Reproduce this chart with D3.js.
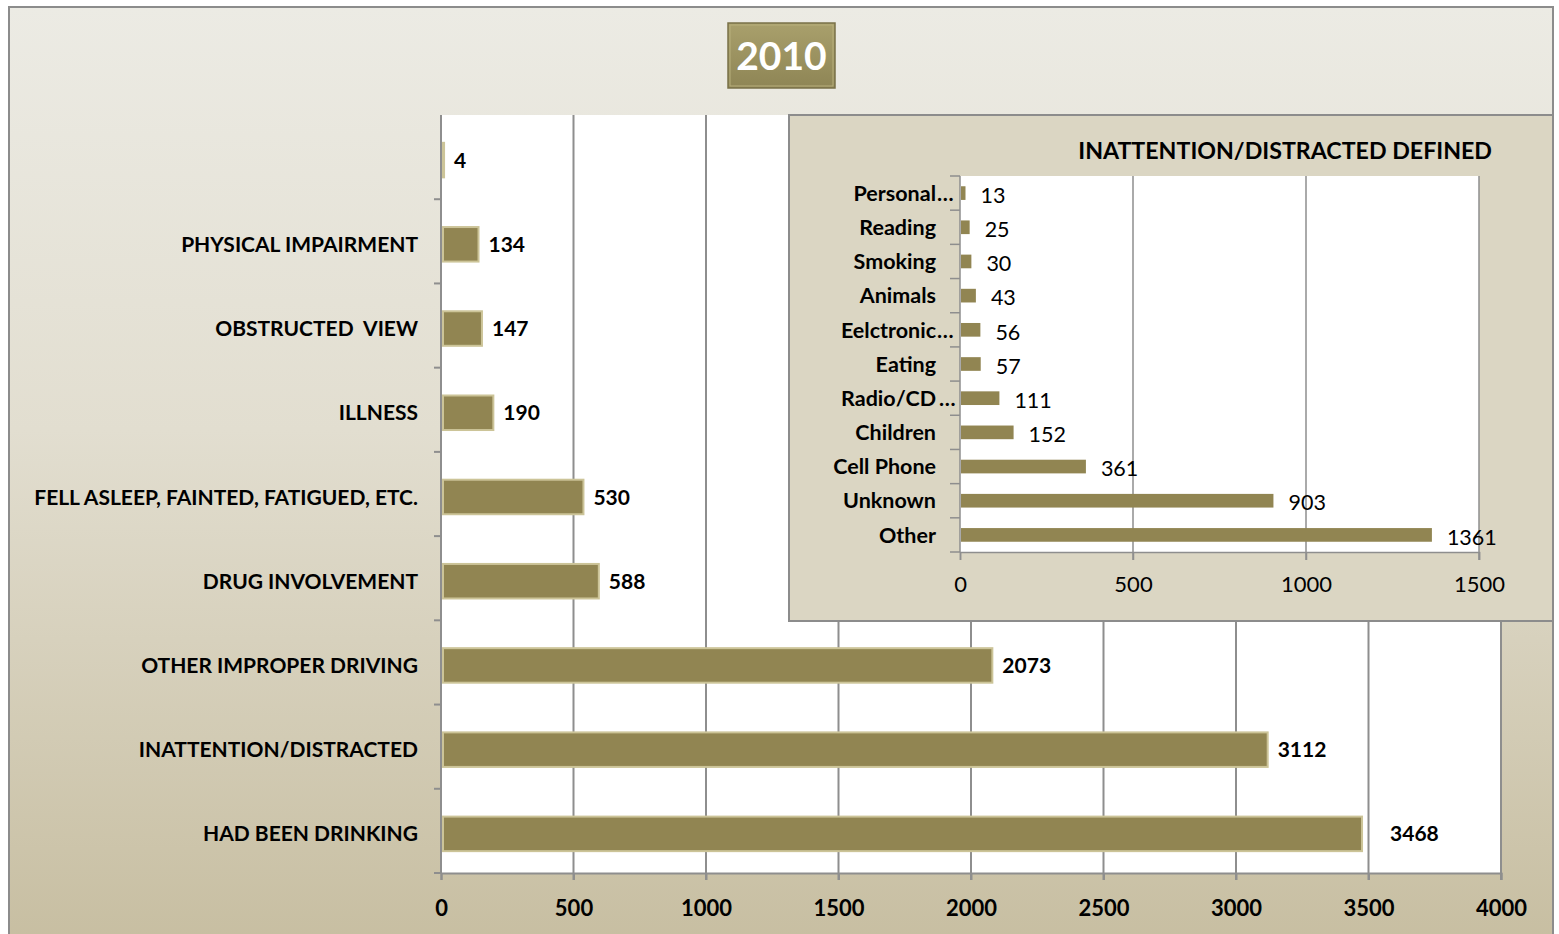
<!DOCTYPE html>
<html><head><meta charset="utf-8">
<script src="https://cdn.jsdelivr.net/npm/d3@7"></script>
<style>html,body{margin:0;padding:0;background:#fff;}svg{display:block;}</style>
</head><body>
<svg id="c" width="1559" height="934"></svg>
<script>
const titleText = "2010";
const mainCategories = ["", "PHYSICAL IMPAIRMENT", "OBSTRUCTED  VIEW", "ILLNESS", "FELL ASLEEP, FAINTED, FATIGUED, ETC.", "DRUG INVOLVEMENT", "OTHER IMPROPER DRIVING", "INATTENTION/DISTRACTED", "HAD BEEN DRINKING"];
const mainValues = [4, 134, 147, 190, 530, 588, 2073, 3112, 3468];
const mainTicks = [0, 500, 1000, 1500, 2000, 2500, 3000, 3500, 4000];

const insetTitle = "INATTENTION/DISTRACTED DEFINED";
const insetCategories = ["Personal…", "Reading", "Smoking", "Animals", "Eelctronic…", "Eating", "Radio/CD …", "Children", "Cell Phone", "Unknown", "Other"];
const insetValues = [13, 25, 30, 43, 56, 57, 111, 152, 361, 903, 1361];
const insetTicks = [0, 500, 1000, 1500];

const FONT = "Lato, 'Open Sans', sans-serif";
const svg = d3.select("#c");
const defs = svg.append("defs");
const bg = defs.append("linearGradient").attr("id","bg").attr("x1",0).attr("y1",0).attr("x2",0).attr("y2",1);
bg.append("stop").attr("offset","0%").attr("stop-color","#ECEBE4");
bg.append("stop").attr("offset","45%").attr("stop-color","#E2DED0");
bg.append("stop").attr("offset","100%").attr("stop-color","#C7BEA1");
const tg = defs.append("linearGradient").attr("id","tg").attr("x1",0).attr("y1",0).attr("x2",0).attr("y2",1);
tg.append("stop").attr("offset","0%").attr("stop-color","#A9A06C");
tg.append("stop").attr("offset","100%").attr("stop-color","#8E8555");

// outer frame
svg.append("rect").attr("x",9).attr("y",7).attr("width",1544).attr("height",940)
  .attr("fill","url(#bg)").attr("stroke","#8C8C8C").attr("stroke-width",2);

// title box
const tb = svg.append("g");
tb.append("rect").attr("x",728).attr("y",23).attr("width",107).attr("height",65)
  .attr("fill","url(#tg)").attr("stroke","#7A7148").attr("stroke-width",1.5);
tb.append("rect").attr("x",730).attr("y",25).attr("width",103).attr("height",61)
  .attr("fill","none").attr("stroke","#B8AF7C").attr("stroke-width",1);
tb.append("text").attr("x",781.5).attr("y",70).attr("text-anchor","middle")
  .attr("font-family",FONT).attr("font-weight","bold").attr("font-size",39).attr("fill","#fff")
  .text(titleText);

// main chart
const m = {l:441, r:1501, t:115, b:873};
const x = d3.scaleLinear().domain([0,4000]).range([m.l, m.r]);
const y = d3.scaleBand().domain(mainCategories.map((d,i)=>i)).range([m.t, m.b]).paddingInner(0.59).paddingOuter(0.295).align(0.56);
const main = svg.append("g");
main.append("rect").attr("x",m.l).attr("y",m.t).attr("width",m.r-m.l).attr("height",m.b-m.t).attr("fill","#fff");
main.selectAll("line.grid").data(mainTicks.slice(1)).join("line")
  .attr("x1",d=>x(d)).attr("x2",d=>x(d)).attr("y1",m.t).attr("y2",m.b+7)
  .attr("stroke","#8E8E8E").attr("stroke-width",2);
// bottom axis
const xa = main.append("g").attr("transform",`translate(0,${m.b})`)
  .call(d3.axisBottom(x).tickValues(mainTicks).tickSize(7).tickFormat(d3.format("d")));
xa.select(".domain").attr("stroke","#8E8E8E").attr("stroke-width",2);
xa.selectAll(".tick line").attr("stroke","#8E8E8E").attr("stroke-width",2);
xa.selectAll(".tick text").attr("font-family",FONT).attr("font-weight","bold").attr("font-size",22).attr("fill","#000").attr("dy","1.5em");
// left axis
const step = y.step();
main.append("line").attr("x1",m.l).attr("x2",m.l).attr("y1",m.t).attr("y2",m.b).attr("stroke","#8E8E8E").attr("stroke-width",2);
main.selectAll("line.yt").data(d3.range(mainCategories.length)).join("line")
  .attr("x1",m.l-7).attr("x2",m.l).attr("y1",(d,i)=>m.t+step*(i+1)).attr("y2",(d,i)=>m.t+step*(i+1))
  .attr("stroke","#8E8E8E").attr("stroke-width",2);
// bars
main.selectAll("rect.bar").data(mainValues).join("rect")
  .attr("x",x(0)+2).attr("y",(d,i)=>y(i)).attr("height",y.bandwidth())
  .attr("width",d=>Math.max(1, x(d)-x(0)))
  .attr("fill","#918552").attr("stroke","#CCC498").attr("stroke-width",2);
// value labels
main.selectAll("text.val").data(mainValues).join("text")
  .attr("x",(d,i)=>x(d)+ (i===mainValues.length-1 ? 30 : 12)).attr("y",(d,i)=>y(i)+y.bandwidth()/2).attr("dy","0.36em")
  .attr("font-family",FONT).attr("font-weight","bold").attr("font-size",21).attr("fill","#000")
  .text(d=>d);
// category labels
main.selectAll("text.cat").data(mainCategories).join("text")
  .attr("x",418).attr("y",(d,i)=>y(i)+y.bandwidth()/2).attr("dy","0.36em").attr("text-anchor","end")
  .attr("font-family",FONT).attr("font-weight","bold").attr("font-size",21).attr("fill","#000")
  .attr("xml:space","preserve").style("white-space","pre")
  .text(d=>d);

// inset
const ins = svg.append("g");
ins.append("rect").attr("x",789).attr("y",115).attr("width",764).attr("height",506)
  .attr("fill","#DBD6C3").attr("stroke","#8C8C8C").attr("stroke-width",2);
ins.append("text").attr("x",1492).attr("y",159).attr("text-anchor","end")
  .attr("font-family",FONT).attr("font-weight","bold").attr("font-size",23.2).attr("fill","#000")
  .text(insetTitle);
const p = {l:960, r:1479, t:176, b:552};
const xi = d3.scaleLinear().domain([0,1500]).range([p.l,p.r]);
const yi = d3.scaleBand().domain(insetCategories.map((d,i)=>i)).range([p.t,p.b]).paddingInner(0.6).paddingOuter(0.3);
ins.append("rect").attr("x",p.l).attr("y",p.t).attr("width",p.r-p.l).attr("height",p.b-p.t).attr("fill","#fff");
ins.selectAll("line.grid").data(insetTicks.slice(1)).join("line")
  .attr("x1",d=>xi(d)).attr("x2",d=>xi(d)).attr("y1",p.t).attr("y2",p.b+8)
  .attr("stroke","#8E8E8E").attr("stroke-width",1.5);
const xia = ins.append("g").attr("transform",`translate(0,${p.b})`)
  .call(d3.axisBottom(xi).tickValues(insetTicks).tickSize(8).tickFormat(d3.format("d")));
xia.select(".domain").attr("stroke","#8E8E8E").attr("stroke-width",1.5);
xia.selectAll(".tick line").attr("stroke","#8E8E8E").attr("stroke-width",1.5);
xia.selectAll(".tick text").attr("font-family",FONT).attr("font-size",22).attr("fill","#000").attr("dy","1.3em");
const stepI = yi.step();
ins.append("line").attr("x1",p.l).attr("x2",p.l).attr("y1",p.t).attr("y2",p.b).attr("stroke","#8E8E8E").attr("stroke-width",1.5);
ins.selectAll("line.yt").data(d3.range(insetCategories.length+1)).join("line")
  .attr("x1",p.l-10).attr("x2",p.l).attr("y1",(d,i)=>p.t+stepI*i).attr("y2",(d,i)=>p.t+stepI*i)
  .attr("stroke","#8E8E8E").attr("stroke-width",1.5);
ins.selectAll("rect.bar").data(insetValues).join("rect")
  .attr("x",xi(0)+1).attr("y",(d,i)=>yi(i)).attr("height",yi.bandwidth())
  .attr("width",d=>xi(d)-xi(0))
  .attr("fill","#918552");
ins.selectAll("text.val").data(insetValues).join("text")
  .attr("x",d=>xi(d)+16).attr("y",(d,i)=>yi(i)+yi.bandwidth()/2+2).attr("dy","0.36em")
  .attr("font-family",FONT).attr("font-size",21.5).attr("fill","#000")
  .text(d=>d);
// category labels: base part right-aligned, truncation ellipsis overflowing past the axis
const baseOf = d => d.replace(/\s*…$/, "");
ins.selectAll("text.cat").data(insetCategories).join("text")
  .attr("x",936).attr("y",(d,i)=>yi(i)+yi.bandwidth()/2).attr("dy","0.36em").attr("text-anchor","end")
  .attr("font-family",FONT).attr("font-weight","bold").attr("font-size",21.5).attr("fill","#000")
  .text(d=>baseOf(d));
ins.selectAll("text.ell").data(insetCategories.map((d,i)=>({d,i})).filter(o=>o.d.endsWith("…"))).join("text")
  .attr("x",o=>o.d.endsWith(" …") ? 939 : 937).attr("y",o=>yi(o.i)+yi.bandwidth()/2).attr("dy","0.36em")
  .attr("font-family",FONT).attr("font-weight","bold").attr("font-size",21.5).attr("fill","#000")
  .text("…");
</script>
</body></html>
